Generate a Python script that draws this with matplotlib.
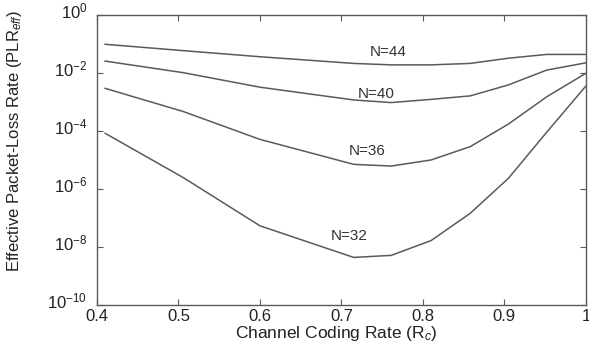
import numpy as np
import matplotlib
matplotlib.use('Agg')
import matplotlib.pyplot as plt
import matplotlib.transforms as mtransforms

plt.rcParams['font.family'] = ['Liberation Sans', 'DejaVu Sans']
plt.rcParams['mathtext.fontset'] = 'custom'
plt.rcParams['mathtext.rm'] = 'Liberation Sans'
plt.rcParams['mathtext.it'] = 'Liberation Sans:italic'

# coding rates (x) and log10 of effective packet-loss rate per N
rate = [0.41, 0.506, 0.6, 0.715, 0.761, 0.81, 0.858, 0.905, 0.952, 1.0]
log_n44 = [-1.02, -1.24, -1.45, -1.68, -1.73, -1.73, -1.68, -1.50, -1.37, -1.37]
log_n40 = [-1.60, -2.00, -2.50, -2.94, -3.03, -2.92, -2.80, -2.42, -1.91, -1.66]
log_n36 = [-2.54, -3.34, -4.30, -5.16, -5.22, -5.01, -4.55, -3.77, -2.83, -2.02]
log_n32 = [-4.09, -5.62, -7.28, -8.37, -8.30, -7.79, -6.85, -5.64, -4.05, -2.46]

curves = [('N=44', log_n44), ('N=40', log_n40), ('N=36', log_n36), ('N=32', log_n32)]
label_pos = {'N=44': (0.757, -1.29), 'N=40': (0.743, -2.74),
             'N=36': (0.731, -4.69), 'N=32': (0.7095, -7.63)}

grey = '#5a5a5a'
fig = plt.figure(figsize=(5.89, 3.41), dpi=100)
ax = fig.add_axes([0.1647, 0.1065, 0.830, 0.8504])

for name, vals in curves:
    ax.plot(rate, 10.0 ** np.array(vals), color=grey, lw=1.1)
    lx, ly = label_pos[name]
    ax.text(lx, 10.0 ** ly, name, ha='center', va='center', fontsize=11, color='#333333')

ax.set_yscale('log')
ax.set_xlim(0.4, 1.0)
ax.set_ylim(1e-10, 1)
ax.set_yticks([1e0, 1e-2, 1e-4, 1e-6, 1e-8, 1e-10])
ax.yaxis.set_minor_locator(matplotlib.ticker.NullLocator())
ax.set_xticks([0.4, 0.5, 0.6, 0.7, 0.8, 0.9, 1.0])
ax.set_xticklabels(['0.4', '0.5', '0.6', '0.7', '0.8', '0.9', '1'])

ax.tick_params(direction='in', top=True, right=True, length=4, width=0.8,
               color=grey, labelsize=12, labelcolor='#222222', pad=3)
ax.tick_params(axis='y', pad=7)
for s in ax.spines.values():
    s.set_color(grey)
    s.set_linewidth(1.0)

# y tick labels sit a little above their ticks in the original
shift = mtransforms.ScaledTranslation(0, 5 / 100, fig.dpi_scale_trans)
for lab in ax.get_yticklabels():
    lab.set_transform(lab.get_transform() + shift)

ax.set_xlabel('Channel Coding Rate (R$_c$)', fontsize=12.5, color='#222222')
ax.xaxis.set_label_coords(0.49, -0.065)
ax.set_ylabel('Effective Packet-Loss Rate (PLR$_{eff}$)', fontsize=12, color='#222222')
ax.yaxis.set_label_coords(-0.15, 0.565)

fig.savefig('out.png', dpi=100)
